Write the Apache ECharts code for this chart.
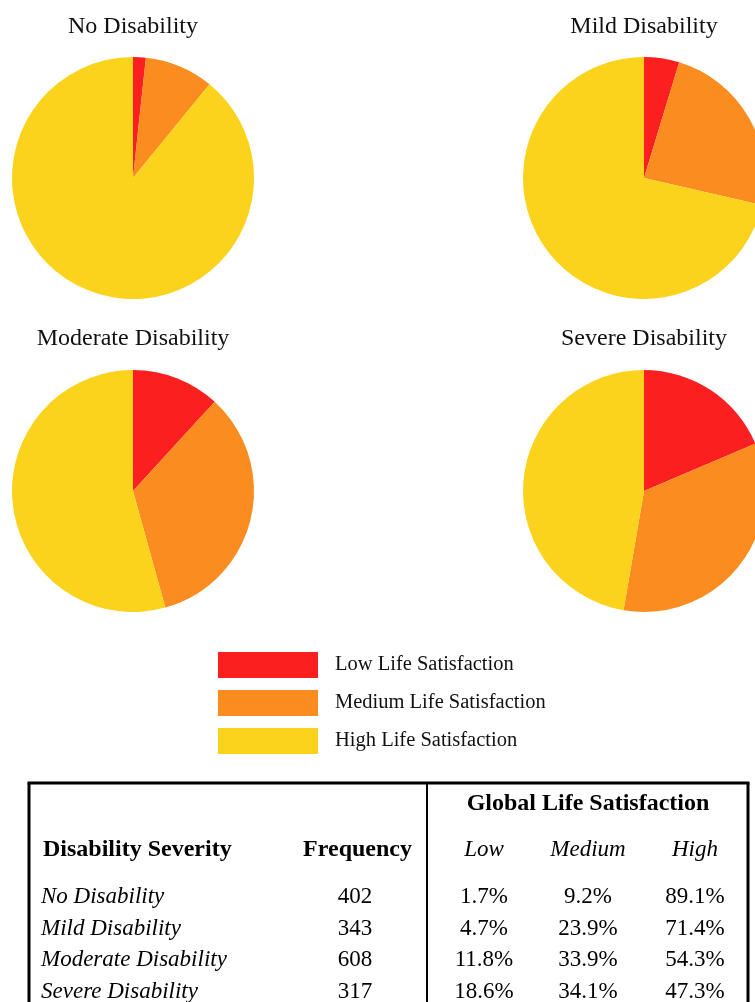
<!DOCTYPE html>
<html>
<head>
<meta charset="utf-8">
<script src="https://cdn.jsdelivr.net/npm/echarts@6/dist/echarts.min.js"></script>
<style>
html,body{margin:0;padding:0;background:#fff;}
#chart{width:755px;height:1002px;}
</style>
</head>
<body>
<div id="chart"></div>
<script>
// ---- data ----
const groups = ['No Disability', 'Mild Disability', 'Moderate Disability', 'Severe Disability'];
const levels = ['Low Life Satisfaction', 'Medium Life Satisfaction', 'High Life Satisfaction'];
const levelShort = ['Low', 'Medium', 'High'];
const frequency = [402, 343, 608, 317];
const lowPct = [1.7, 4.7, 11.8, 18.6];
const mediumPct = [9.2, 23.9, 33.9, 34.1];
const highPct = [89.1, 71.4, 54.3, 47.3];
const tableTitle = 'Global Life Satisfaction';
const colHeaders = ['Disability Severity', 'Frequency'];

// ---- layout / style ----
const colors = ['#FC1F1F', '#FB8C1F', '#FBD31D'];
const FONT = '"Liberation Serif", "Times New Roman", serif';
const pieCenters = [[133, 178], [644, 178], [133, 491], [644, 491]];
const titleY = [27, 27, 339, 339];
const R = 121;

const series = groups.map((g, i) => ({
  type: 'pie',
  name: g,
  center: pieCenters[i],
  radius: [0, R],
  startAngle: 90,
  clockwise: true,
  silent: true,
  label: { show: false },
  labelLine: { show: false },
  emphasis: { disabled: true },
  animation: false,
  itemStyle: { borderWidth: 0 },
  data: [
    { name: levels[0], value: lowPct[i] },
    { name: levels[1], value: mediumPct[i] },
    { name: levels[2], value: highPct[i] }
  ]
}));

const graphics = [];
// pie titles
groups.forEach((g, i) => {
  graphics.push({
    type: 'text', x: pieCenters[i][0], y: titleY[i],
    style: { text: g, fill: '#111', fontFamily: FONT, fontSize: 24, align: 'center', verticalAlign: 'middle' }
  });
});

// table frame
const tTop = 783, tLeft = 29, tRight = 748, divX = 427, tBottom = 1010;
graphics.push({ type: 'line', shape: { x1: tLeft - 1.5, y1: tTop, x2: tRight + 1.5, y2: tTop }, style: { stroke: '#000', lineWidth: 3 } });
graphics.push({ type: 'line', shape: { x1: tLeft, y1: tTop, x2: tLeft, y2: tBottom }, style: { stroke: '#000', lineWidth: 3 } });
graphics.push({ type: 'line', shape: { x1: tRight, y1: tTop, x2: tRight, y2: tBottom }, style: { stroke: '#000', lineWidth: 3 } });
graphics.push({ type: 'line', shape: { x1: divX, y1: tTop, x2: divX, y2: tBottom }, style: { stroke: '#000', lineWidth: 2 } });

function txt(x, y, text, size, weight, fontStyle, align) {
  return {
    type: 'text', x: x, y: y,
    style: { text: text, fill: '#000', fontFamily: FONT, fontSize: size, fontWeight: weight, fontStyle: fontStyle, align: align, verticalAlign: 'middle' }
  };
}

// table header
const hdrY = 850;
const colX = { name: 43, freq: 412, low: 484, medium: 588, high: 695 };
graphics.push(txt(588, 804, tableTitle, 24, 'bold', 'normal', 'center'));
graphics.push(txt(colX.name, hdrY, colHeaders[0], 24, 'bold', 'normal', 'left'));
graphics.push(txt(colX.freq, hdrY, colHeaders[1], 24, 'bold', 'normal', 'right'));
[colX.low, colX.medium, colX.high].forEach((x, k) => {
  graphics.push(txt(x, hdrY, levelShort[k], 23, 'normal', 'italic', 'center'));
});

// table rows
const rowY0 = 897, rowStep = 31.6;
groups.forEach((g, i) => {
  const y = rowY0 + i * rowStep;
  graphics.push(txt(colX.name - 2, y, g, 23, 'normal', 'italic', 'left'));
  graphics.push(txt(355, y, String(frequency[i]), 23, 'normal', 'normal', 'center'));
  graphics.push(txt(colX.low, y, lowPct[i].toFixed(1) + '%', 23, 'normal', 'normal', 'center'));
  graphics.push(txt(colX.medium, y, mediumPct[i].toFixed(1) + '%', 23, 'normal', 'normal', 'center'));
  graphics.push(txt(colX.high, y, highPct[i].toFixed(1) + '%', 23, 'normal', 'normal', 'center'));
});

const chart = echarts.init(document.getElementById('chart'), null, { renderer: 'canvas' });
chart.setOption({
  animation: false,
  color: colors,
  legend: {
    data: levels,
    orient: 'vertical',
    left: 218,
    top: 652,
    padding: 0,
    itemWidth: 100,
    itemHeight: 26,
    itemGap: 12,
    icon: 'rect',
    selectedMode: false,
    textStyle: { fontFamily: FONT, fontSize: 20.5, color: '#111', padding: [0, 0, 0, 12] }
  },
  series: series,
  graphic: { elements: graphics }
});
</script>
</body>
</html>
